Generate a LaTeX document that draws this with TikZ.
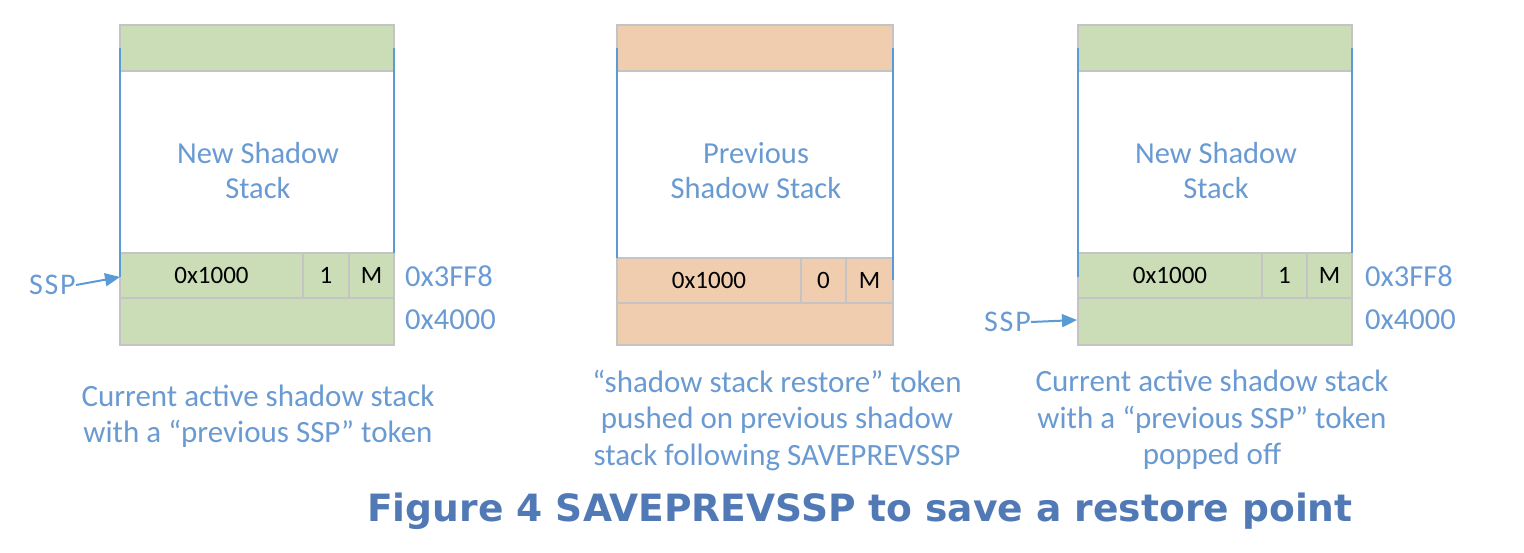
\documentclass[tikz,border=0pt]{standalone}
\usepackage{fontspec}
\setmainfont{Carlito}
\newfontfamily\titlefont{DejaVu Sans}
\usetikzlibrary{arrows.meta}
\definecolor{sgreen}{HTML}{CADDB6}
\definecolor{sorange}{HTML}{F0CDAF}
\definecolor{sblue}{HTML}{6A9AD2}
\definecolor{lblue}{HTML}{5B9BD5}
\definecolor{tblue}{HTML}{5079B5}
\definecolor{cellgray}{HTML}{C4C4C4}
\tikzset{
  cell/.style={draw=cellgray, line width=1.2pt, anchor=north west, inner sep=0pt, outer sep=0pt, font=\fontsize{25}{29}\selectfont},
  side/.style={draw=lblue, line width=1.6pt},
  bluetext/.style={text=sblue, font=\fontsize{30.5}{35}\selectfont, align=center, inner sep=0pt},
  captext/.style={text=sblue, font=\fontsize{31}{36.5}\selectfont, align=center, inner sep=0pt},
  addr/.style={text=sblue, font=\fontsize{30.5}{36}\selectfont, anchor=west, inner sep=0pt},
  ssptext/.style={text=sblue, font=\addfontfeature{LetterSpace=6}\fontsize{30}{36}\selectfont, anchor=east, inner sep=0pt},
  ptr/.style={draw=lblue, line width=2pt, -{Triangle[length=15pt,width=13pt]}},
}
\begin{document}
\begin{tikzpicture}[x=1pt,y=-1pt]
\useasboundingbox (0,0) rectangle (1524,552);
% ---------- left stack ----------
\node[cell, fill=sgreen, minimum width=274pt, minimum height=46pt] (ltop) at (120,25) {};
\node[cell, fill=sgreen, minimum width=183pt, minimum height=45pt] (laddr) at (120,253) {0x1000};
\node[cell, fill=sgreen, minimum width=46pt, minimum height=45pt] (lbit) at (303,253) {1};
\node[cell, fill=sgreen, minimum width=45pt, minimum height=45pt] (lm) at (349,253) {M};
\node[cell, fill=sgreen, minimum width=274pt, minimum height=47pt] (lbot) at (120,298) {};
\draw[side] (120,48) -- (120,277);
\draw[side] (394,48) -- (394,253);
\node[bluetext] (lname) at (258,171) {New Shadow\\Stack};
\node[addr] (la1) at (405,276) {0x3FF8};
\node[addr] (la2) at (405,320) {0x4000};
\node[ssptext] (lssp) at (76,285) {SSP};
\coordinate (lsspt) at (120,277);
\draw[ptr] (lssp.east) -- (lsspt);
\node[captext] (lcap) at (258,416) {Current active shadow stack\\with a “previous SSP” token};
% ---------- middle stack ----------
\node[cell, fill=sorange, minimum width=276pt, minimum height=46pt] (mtop) at (617,25) {};
\node[cell, fill=sorange, minimum width=184pt, minimum height=45pt] (maddr) at (617,258) {0x1000};
\node[cell, fill=sorange, minimum width=45pt, minimum height=45pt] (mbit) at (801,258) {0};
\node[cell, fill=sorange, minimum width=47pt, minimum height=45pt] (mm) at (846,258) {M};
\node[cell, fill=sorange, minimum width=276pt, minimum height=42pt] (mbot) at (617,303) {};
\draw[side] (617,48) -- (617,258);
\draw[side] (893,48) -- (893,280);
\node[bluetext] (mname) at (756,171) {Previous\\Shadow Stack};
\node[captext] (mcap) at (777,420) {“shadow stack restore” token\\pushed on previous shadow\\stack following SAVEPREVSSP};
% ---------- right stack ----------
\node[cell, fill=sgreen, minimum width=274pt, minimum height=46pt] (rtop) at (1078,25) {};
\node[cell, fill=sgreen, minimum width=184pt, minimum height=45pt] (raddr) at (1078,253) {0x1000};
\node[cell, fill=sgreen, minimum width=45pt, minimum height=45pt] (rbit) at (1262,253) {1};
\node[cell, fill=sgreen, minimum width=45pt, minimum height=45pt] (rm) at (1307,253) {M};
\node[cell, fill=sgreen, minimum width=274pt, minimum height=47pt] (rbot) at (1078,298) {};
\draw[side] (1078,48) -- (1078,277);
\draw[side] (1352,48) -- (1352,253);
\node[bluetext] (rname) at (1216,171) {New Shadow\\Stack};
\node[addr] (ra1) at (1365,276) {0x3FF8};
\node[addr] (ra2) at (1365,320) {0x4000};
\node[ssptext] (rssp) at (1031,322) {SSP};
\coordinate (rsspt) at (1077,320);
\draw[ptr] (rssp.east) -- (rsspt);
\node[captext] (rcap) at (1212,420) {Current active shadow stack\\with a “previous SSP” token\\popped off};
% ---------- title ----------
\node[text=tblue, inner sep=0pt, font=\titlefont\bfseries\fontsize{37.6}{44}\selectfont] (title) at (860,511) {Figure 4 SAVEPREVSSP to save a restore point};
\end{tikzpicture}
\end{document}
